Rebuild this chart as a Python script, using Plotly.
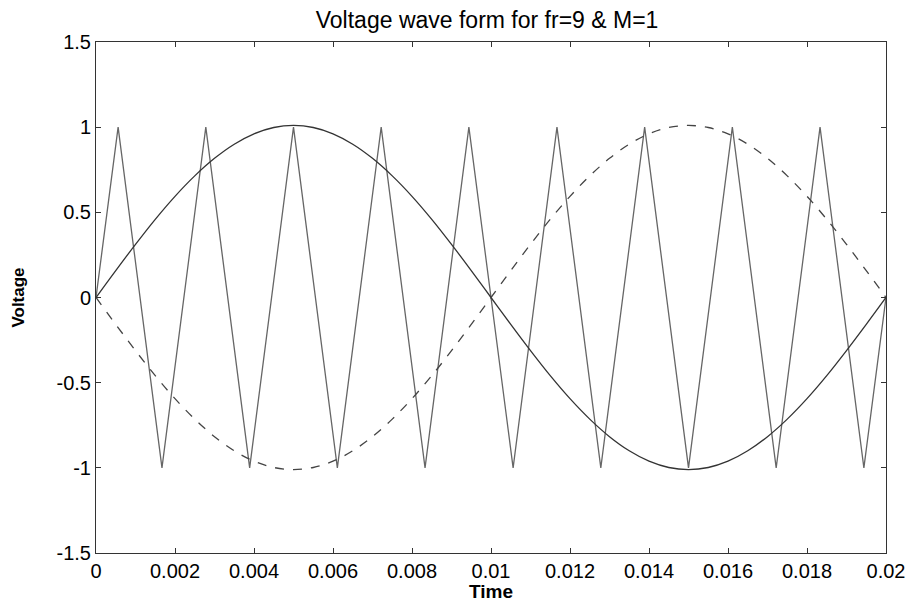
import plotly.graph_objects as go

# Time samples for the modulating waves (s)
t_sine = [0.0000, 0.0005, 0.0010, 0.0015, 0.0020, 0.0025, 0.0030, 0.0035, 0.0040, 0.0045,
          0.0050, 0.0055, 0.0060, 0.0065, 0.0070, 0.0075, 0.0080, 0.0085, 0.0090, 0.0095,
          0.0100, 0.0105, 0.0110, 0.0115, 0.0120, 0.0125, 0.0130, 0.0135, 0.0140, 0.0145,
          0.0150, 0.0155, 0.0160, 0.0165, 0.0170, 0.0175, 0.0180, 0.0185, 0.0190, 0.0195,
          0.0200]
# Solid reference wave
v_ref = [0.000, 0.158, 0.312, 0.459, 0.594, 0.714, 0.817, 0.900, 0.961, 0.998,
         1.010, 0.998, 0.961, 0.900, 0.817, 0.714, 0.594, 0.459, 0.312, 0.158,
         0.000, -0.158, -0.312, -0.459, -0.594, -0.714, -0.817, -0.900, -0.961, -0.998,
         -1.010, -0.998, -0.961, -0.900, -0.817, -0.714, -0.594, -0.459, -0.312, -0.158,
         0.000]
# Dashed (inverted) reference wave
v_inv = [0.000, -0.158, -0.312, -0.459, -0.594, -0.714, -0.817, -0.900, -0.961, -0.998,
         -1.010, -0.998, -0.961, -0.900, -0.817, -0.714, -0.594, -0.459, -0.312, -0.158,
         0.000, 0.158, 0.312, 0.459, 0.594, 0.714, 0.817, 0.900, 0.961, 0.998,
         1.010, 0.998, 0.961, 0.900, 0.817, 0.714, 0.594, 0.459, 0.312, 0.158,
         0.000]
# Triangular carrier vertices
t_tri = [0.0000, 0.00056, 0.00167, 0.00278, 0.00389, 0.00500, 0.00611, 0.00722, 0.00833,
         0.00944, 0.01056, 0.01167, 0.01278, 0.01389, 0.01500, 0.01611, 0.01722, 0.01833,
         0.01944, 0.0200]
v_tri = [0, 1, -1, 1, -1, 1, -1, 1, -1, 1, -1, 1, -1, 1, -1, 1, -1, 1, -1, 0]

x_ticks = [0, 0.002, 0.004, 0.006, 0.008, 0.01, 0.012, 0.014, 0.016, 0.018, 0.02]
x_tick_text = ["0", "0.002", "0.004", "0.006", "0.008", "0.01", "0.012", "0.014", "0.016", "0.018", "0.02"]
y_ticks = [-1.5, -1, -0.5, 0, 0.5, 1, 1.5]
y_tick_text = ["-1.5", "-1", "-0.5", "0", "0.5", "1", "1.5"]

fig = go.Figure()
fig.add_trace(go.Scatter(x=t_tri, y=v_tri, mode="lines",
                         line=dict(color="#666666", width=1.3)))
fig.add_trace(go.Scatter(x=t_sine, y=v_ref, mode="lines", line_shape="spline",
                         line=dict(color="#333333", width=1.3)))
fig.add_trace(go.Scatter(x=t_sine, y=v_inv, mode="lines", line_shape="spline",
                         line=dict(color="#444444", width=1.3, dash="dash")))

font = "Liberation Sans, Arial, sans-serif"
fig.update_layout(
    width=919, height=602,
    margin=dict(l=96, r=33, t=42, b=49, autoexpand=False),
    paper_bgcolor="white", plot_bgcolor="white",
    showlegend=False,
    font=dict(family=font, color="black", size=20),
    title=dict(text="Voltage wave form for fr=9 & M=1", x=0.53, xanchor="center",
               y=0.967, yanchor="middle", font=dict(size=23, color="black")),
)
fig.update_xaxes(range=[0, 0.02], tickvals=x_ticks, ticktext=x_tick_text, automargin=False,
                 showgrid=False, zeroline=False, showline=True, linecolor="#333333",
                 linewidth=1, mirror="ticks", ticks="inside", ticklen=5, tickcolor="#333333",
                 tickfont=dict(size=20),
                 title=dict(text="<b>Time</b>", font=dict(size=19), standoff=9))
fig.update_yaxes(range=[-1.5, 1.5], tickvals=y_ticks, ticktext=y_tick_text, automargin=False,
                 showgrid=False, zeroline=False, showline=True, linecolor="#333333",
                 linewidth=1, mirror="ticks", ticks="inside", ticklen=5, tickcolor="#333333",
                 tickfont=dict(size=20),
                 title=dict(text="<b>Voltage</b>", font=dict(size=17), standoff=27))

fig.write_html("out.html")
